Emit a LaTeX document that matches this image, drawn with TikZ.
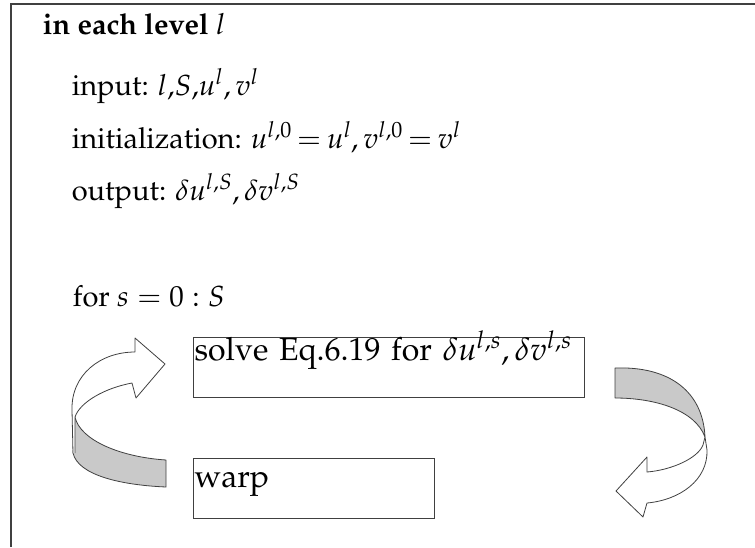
\documentclass[tikz,border=0pt]{standalone}
\usepackage[T1]{fontenc}
\usepackage{mathpazo}
\usepackage{xcolor}
\usepackage{tikz}
\usetikzlibrary{positioning}
\definecolor{edge}{gray}{0.25}
\definecolor{band}{gray}{0.79}
\tikzset{
    frame/.style={draw=edge, line width=1.8pt},
    txt/.style={anchor=base west, inner sep=0pt, font=\fontsize{29}{34}\selectfont},
    stepbox/.style={rectangle, draw=edge, line width=0.9pt, anchor=north west,
                    align=left, inner xsep=1.5pt, inner ysep=0pt,
                    font=\fontsize{32}{36}\selectfont},
    ribbon/.style={draw=edge, line width=0.8pt, fill=band, line join=round},
    face/.style={draw=edge, line width=0.8pt, fill=white, line join=round},
}

\begin{document}
\begin{tikzpicture}[x=1pt, y=-1pt]
    \useasboundingbox (0,0) rectangle (755,547);
    % outer frame
    \draw[frame] (11,547) |- (755,4);
    % text lines
    \node[txt, font=\fontsize{29}{34}\selectfont\bfseries] (title) at (42.7,34) {in each level $l$};
    \node[txt] (input) at (71.7,95) {input: $l$,$S$,$u^l,v^l$};
    \node[txt] (init)  at (71.7,148)
        {initialization: $\thickmuskip=3.5mu \scriptspace=0pt u^{l,0}=u^l,v^{l,0}=v^l$};
    \node[txt] (output) at (71.7,200) {output: $\delta u^{l,S},\delta v^{l,S}$};
    \node[txt] (loop)  at (72.7,306.7) {for $s=0:S$};
    % steps
    \node[stepbox, text width=388.3pt, text height=23.3pt, text depth=36.7pt]
        (solve) at (192.7,336.7) {solve Eq.6.19 for $\delta u^{l,s},\delta v^{l,s}$};
    \node[stepbox, text width=238.3pt, text height=29.3pt, text depth=31.3pt]
        (warp) at (192.7,457.7) {warp};
    % left turning arrow
    \draw[ribbon] (75,417) .. controls (80,440) and (120,457) .. (166,460)
        -- (166,487) .. controls (120,485) and (78,475) .. (73,453) -- cycle;
    \draw[face] (73,453) -- (72,410) .. controls (71,375) and (100,352) .. (135,352)
        -- (135,338) -- (165,364) -- (136,398) -- (132,383)
        .. controls (105,388) and (80,402) .. (75,417) -- (75,453);
    % right turning arrow
    \draw[ribbon] (615,368) .. controls (670,366) and (703,392) .. (705,437)
        .. controls (695,410) and (655,398) .. (615,398) -- cycle;
    \draw[face] (705,437) -- (707,450) .. controls (708,480) and (680,500) .. (647,503)
        -- (643,517) -- (616,491) -- (647,457) -- (647,472)
        .. controls (672,470) and (698,458) .. (703,445) -- cycle;
\end{tikzpicture}
\end{document}
